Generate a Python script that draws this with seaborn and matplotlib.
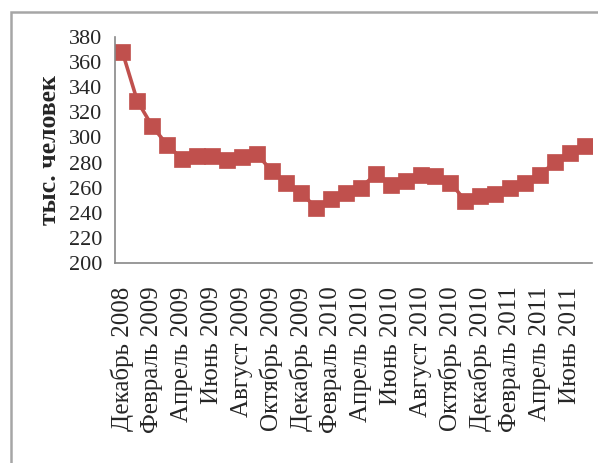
import matplotlib
matplotlib.use("Agg")
import matplotlib.pyplot as plt
import seaborn as sns
import pandas as pd
from matplotlib.patches import Rectangle

# monthly values, Dec 2008 .. Jul 2011 (thousand people)
months = ['Декабрь 2008', 'Январь 2009', 'Февраль 2009', 'Март 2009', 'Апрель 2009', 'Май 2009',
          'Июнь 2009', 'Июль 2009', 'Август 2009', 'Сентябрь 2009', 'Октябрь 2009', 'Ноябрь 2009',
          'Декабрь 2009', 'Январь 2010', 'Февраль 2010', 'Март 2010', 'Апрель 2010', 'Май 2010',
          'Июнь 2010', 'Июль 2010', 'Август 2010', 'Сентябрь 2010', 'Октябрь 2010', 'Ноябрь 2010',
          'Декабрь 2010', 'Январь 2011', 'Февраль 2011', 'Март 2011', 'Апрель 2011', 'Май 2011',
          'Июнь 2011', 'Июль 2011']
values = [368, 329, 309, 294, 283, 285, 285, 282, 284.5, 287, 273.5, 264,
          256, 243.5, 251, 255.5, 260, 271, 262, 265.5, 270, 269, 264, 249.5,
          253.5, 255, 260, 264, 270, 280.5, 288, 293.5]
yticks = list(range(200, 381, 20))

df = pd.DataFrame({'idx': range(len(months)), 'month': months, 'val': values})

sns.set_style('white')
plt.rcParams['font.family'] = ['Liberation Serif', 'DejaVu Serif']

fig = plt.figure(figsize=(5.98, 4.63), dpi=100)
ax = fig.add_axes([0.1923, 0.432, 0.7977, 0.488])

red = '#C0504D'
sns.lineplot(data=df, x='idx', y='val', ax=ax, color=red, linewidth=2.6,
             marker='s', markersize=11.5, markeredgecolor=red, markeredgewidth=0.5)

ax.set_xlim(-0.5, len(months) - 0.5)
ax.set_ylim(200, 380)
ax.set_yticks(yticks)
ax.set_yticklabels([str(t) for t in yticks], fontsize=16)

# major ticks between categories every 2 months, labels on every other month
ax.set_xticks([i - 0.5 for i in range(0, len(months) + 1, 2)])
ax.set_xticklabels([])
ax.set_xticks(list(range(0, len(months), 2)), minor=True)
ax.set_xticklabels(months[::2], minor=True, rotation=90, fontsize=18)
ax.tick_params(axis='x', which='minor', length=0, pad=17)
ax.tick_params(axis='x', which='major', length=6, width=1, color='#888888', direction='out')
ax.tick_params(axis='y', length=6, width=1, color='#888888', direction='out', pad=3)

for s in ['top', 'right']:
    ax.spines[s].set_visible(False)
for s in ['left', 'bottom']:
    ax.spines[s].set_color('#888888')
    ax.spines[s].set_linewidth(1.2)

ax.set_xlabel('')
ax.set_ylabel('тыс. человек', fontsize=18.5, fontweight='bold', labelpad=6)

# outer chart-area frame
fig.patches.append(Rectangle((11 / 598, -0.1), 1.2, 1 - 12 / 463 + 0.1,
                             transform=fig.transFigure, fill=False,
                             edgecolor='#a6a6a6', linewidth=1.8))

fig.savefig('out.png', dpi=100)
